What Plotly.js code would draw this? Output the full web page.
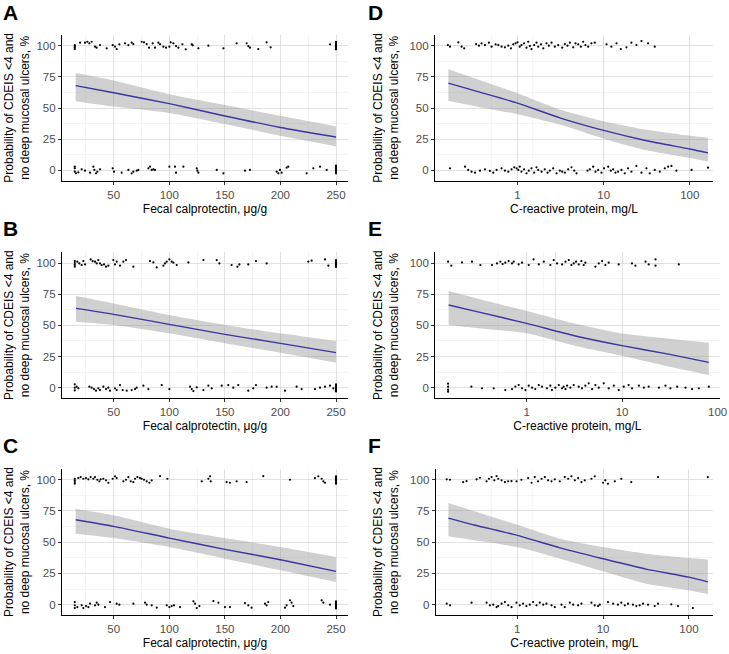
<!DOCTYPE html>
<html>
<head>
<meta charset="utf-8">
<script src="https://cdn.plot.ly/plotly-3.0.1.min.js"></script>
<style>
html,body{margin:0;padding:0;background:#fff;}
#chart{width:729px;height:654px;}
</style>
</head>
<body>
<div id="chart"></div>
<script>
// ---------- Labels ----------
var panelLetters = ["A", "B", "C", "D", "E", "F"];
var xTitleFC = "Fecal calprotectin, μg/g";
var xTitleCRP = "C-reactive protein, mg/L";
var yTitle = "Probability of CDEIS &lt;4 and<br>no deep mucosal ulcers, %";
var yTicks = [0, 25, 50, 75, 100];
var yMinor = [12.5, 37.5, 62.5, 87.5];
var fcTicks = [50, 100, 150, 200, 250];
var fcMinor = [25, 75, 125, 175, 225];
var crpTicks = [1, 10, 100];
var crpTickText = ["1", "10", "100"];
var crpMinor = [0.316, 3.16, 31.6];

// ---------- Panel A (fecal calprotectin) ----------
var aTopX = [15,15,15,15, 19.7,24.2,26.3,28.1,30.2, 33.2,34.7,37.7,43.7,49.1, 51.2,52.7,55.1,60.2,63.2,
  66.2,67.7,75.2,77.3,79.7, 81.8,85.1,87.2,90.2,91.7, 94.7,97.1,100.1,101.3,103.7, 106.1,108.2,111.8,114.8,120.2,
  121.1,126.2,135.2,148.7,160.6, 169.6,171.1,172.6,180.1,187.6, 191.2,244.6,
  250,250,250,250,250,250,250,250,250,250];
var aTopY = [97.3,98.4,99.5,100.4, 102.4,102.4,103.2,101.9,103.2, 99.2,98.4,100.5,97.9,100.5, 99.2,97.3,101.1,101.9,100.5,
  102.4,101.3,103.2,102.7,101.3, 98.4,101.9,98.4,102.4,101.1, 99.2,98.4,99.2,102.7,101.9, 99.7,98.4,101.1,97.1,101.1,
  100.3,97.9,100,97.9,101.9, 101.9,99.7,98.4,97.3,102.7, 98.7,101.1,
  97.1,97.8,98.5,99.2,99.9,100.6,101.3,102,102.7,103.2];
var aBotX = [15,15,15,16.1,18.2, 21.2,24.2,28.7,31.7,32.6, 34.1,35.3,37.7,49.1,50.3, 57.2,63.2,66.2,67.7,70.7,
  72.2,81.2,82.7,84.2,85.7, 87.2,100.1,105.2,106.1,112.7, 124.7,125.3,126.2,142.7,148.7, 168.1,172.6,196.6,198.1,199.6,
  201.1,205.6,207.1,223.6,229.6, 235.6,241.6,
  250,250,250,250,250,250,250,250,250];
var aBotY = [2.9,1.6,-1.1,-2.4,-1.6, 0.8,-0.3,-1.9,2.9,0.3, -2.4,-1.1,0.8,1.6,-1.1, -1.9,0.3,-2.4,-1.1,-0.3,
  0.3,1.6,2.9,0.3,0.8, 0.3,2.9,2.9,-1.9,2.9, 1.6,-0.3,-1.9,0.3,-2.4, -0.3,0.3,-1.1,-2.4,0.3,
  -1.9,2.1,2.9,-2.4,1.6, 2.9,0.3,
  -2.4,-1.5,-0.6,0.3,1.2,2.1,2.9,3.7,-2.0];
var aFitX = [15.8, 50, 100, 150, 200, 250];
var aFit = [68, 62.2, 53.5, 43.6, 34.4, 26.7];
var aLo = [55.5, 51.2, 46, 37.1, 27.7, 19.2];
var aHi = [78, 72, 61, 52.4, 43.7, 35.2];

// ---------- Panel B ----------
var bTopX = [15,15,15,15, 17.3,19.1,21.2,22.7,24.2, 29.3,31.1,33.2,34.7,36.2, 37.7,39.2,41.3,43.1,45.2,
  49.7,51.2,52.7,55.7,58.7, 61.1,67.7,82.7,85.7,88.7, 94.7,96.2,97.7,100.1,102.2, 103.7,106.7,117.2,130.7,142.7,
  145.1,156.1,161.3,163.1,171.1, 178,187.6,225.1,228.1,240.1, 243.1,
  250,250,250,250,250,250,250,250,250];
var bTopY = [97.1,98.5,100,101.6, 101.1,99.7,98.4,101.6,98.9, 102.9,101.6,101.1,99.7,102.4, 99.7,98.4,98.9,97.1,97.9,
  102.4,98.9,101.1,97.9,101.1, 102.4,97.1,101.6,100.5,96.5, 97.9,99.7,101.1,102.9,101.1, 100.3,98.4,100.5,102.4,102.4,
  99.7,98.4,97.1,98.9,98.9, 101.6,99.7,101.1,101.9,102.9, 97.9,
  96.8,97.5,98.2,98.9,99.6,100.3,101,101.7,102.4];
var bBotX = [15,15,15,16.7,18.2, 28.1,30.2,32.3,34.1,36.2, 37.7,40.7,43.1,45.2,46.7, 51.2,52.7,55.7,58.1,61.7,
  66.2,69.2,70.7,76.7,81.2, 93.2,100.1,118.7,120.2,121.7, 124.7,130.7,135.2,138.2,147.2, 153.1,157.6,162.1,171.1,175.6,
  178,187.6,192.1,196.6,204.1, 214.6,219.1,231.1,235.6,240.1, 244.6,247.6,
  250,250,250,250,250,250,250,250];
var bBotY = [2.7,0,-2.1,0.8,-0.5, 0.8,0,-1.1,-2.4,-0.5, -1.9,0.8,-1.1,0,-2.4, -0.5,-1.9,2.1,-1.9,-2.4,
  -1.9,-1.1,0,1.6,-1.1, 2.1,-1.1,0.8,-1.1,-2.7, 0.3,-1.9,1.6,-0.5,1.6, 2.1,0,2.1,-2.4,-0.5,
  2.1,0,0.8,0.8,-2.4, 0.8,-1.1,-1.1,0,0.8, 1.6,-0.5,
  -3,-2.2,-1.4,-0.6,0.2,1,1.8,2.6];
var bFitX = [16.1, 50, 100, 150, 200, 250];
var bFit = [63.6, 58.8, 50.8, 42.8, 35.6, 28.1];
var bLo = [52.9, 50.3, 43.6, 35.6, 28.1, 20.1];
var bHi = [73.5, 67.6, 58.3, 50.3, 43.6, 37.4];

// ---------- Panel C ----------
var cTopX = [15,15,15,15, 18.2,20.3,22.7,25.1,27.2, 29.3,31.7,33.2,35.3,37.1, 38.3,40.7,43.1,45.2,49.1,
  51.2,52.7,58.7,61.1,63.2, 65.3,67.7,69.2,71.3,73.7, 75.2,77.3,79.7,82.1,84.2, 91.7,98.3,129.2,135.2,136.7,
  137.3,151.6,154.6,160.6,169.6, 184.6,208.6,231.1,234.1,237.1, 238.6,240.1,
  250,250,250,250,250,250,250,250,250];
var cTopY = [96.8,98.1,99.5,100.8, 101.3,102.1,100.8,101.3,100.3, 102.1,100.8,102.1,100,98.7, 100.3,100.8,99.5,97.6,100.8,
  102.7,101.3,98.7,100,102.1, 98.7,98.1,100.8,102.1,101.3, 100.8,100,98.7,97.6,99.5, 102.9,100.8,98.7,100.8,102.7,
  98.7,98.1,97.6,98.7,98.1, 102.9,100,101.3,102.7,100.8, 98.7,97.6,
  96.8,97.5,98.2,98.9,99.6,100.3,101,101.7,102.7];
var cBotX = [15,15,15,17.3,21.2, 22.7,25.1,27.2,28.7,33.2, 34.7,36.2,42.2,46.7,52.7, 55.1,67.7,78.2,79.7,84.2,
  88.7,97.7,100.1,102.2,104.3, 109.7,121.7,123.2,124.7,127.1, 139.7,144.2,150.1,154.6,168.1, 171.1,174.1,186.1,187.6,189.1,
  204.1,205.6,208.6,210.1,211.6, 237.1,238.6,244.6,
  250,250,250,250,250,250,250,250];
var cBotY = [2.1,-0.5,-2.7,-1.9,-0.5, -2.7,-1.1,-1.9,0.8,-0.5, 1.6,0,-1.9,2.1,0.8, 0,0.8,1.6,0,-0.5,
  -2.4,-0.5,-1.9,-1.1,-0.5, -1.9,2.7,0.8,-2.7,-1.1, 2.9,1.6,-1.9,-1.9,1.3, -0.5,-2.4,0.8,-0.5,2.1,
  -2.4,-0.5,3.5,1.6,-1.1, 3.5,1.6,0,
  -3,-2.2,-1.4,-0.6,0.2,1,1.8,2.6];
var cFitX = [15.8, 50, 100, 150, 200, 250];
var cFit = [68, 62.7, 53.3, 44.3, 36, 26.7];
var cLo = [56.8, 53.3, 46.1, 36.8, 27.5, 18.1];
var cHi = [76.8, 71.5, 60.8, 53.3, 46.1, 38.1];

// ---------- Panel D (C-reactive protein) ----------
var dTopX = [0.155,0.164,0.205,0.224,0.24, 0.33,0.356,0.382,0.418,0.465, 0.499,0.556,0.597,0.652,0.713,
  0.78,0.837,0.891,0.948,1, 1.06,1.11,1.19,1.27,1.33, 1.39,1.45,1.56,1.66,1.74, 1.87,1.99,2.17,2.31,2.48,
  2.71,2.96,3.3,3.54,3.8, 4.05,4.43,4.71,5.06,5.43, 5.78,6.15,6.61,7.22,7.89, 10.8,12.3,14.1,15.8,18.4,
  21,24,27.5,32.8,39.2];
var dTopY = [100.5,99.2,102.7,99.2,97.9, 101.3,100,101.9,100.5,102.4, 99.2,101.1,100.5,99.2,98.7,
  100,97.9,101.1,101.9,102.7, 99.2,100.5,101.9,98.4,103.2, 99.7,97.3,100.5,102.4,99.2, 101.1,97.9,101.9,100,102.4,
  99.2,100.5,98.4,101.3,100, 102.4,98.7,101.9,101.1,99.2, 103.2,100.5,99.2,101.9,102.4, 101.1,99.2,101.9,97.3,98.7,
  102.4,100.5,103.7,101.9,99.2];
var dBotX = [0.164,0.245,0.267,0.292,0.32, 0.366,0.418,0.477,0.522,0.571, 0.652,0.713,0.78,0.852,0.915,
  0.974,1.02,1.06,1.11,1.19, 1.27,1.35,1.45,1.56,1.66, 1.74,1.9,2.07,2.23,2.37, 2.59,2.84,3.1,3.3,3.54,
  3.87,4.23,4.55,4.84,6.49, 6.91,7.55,8.04,8.63,9.44, 10.1,11.3,12.1,12.9,13.7, 14.7,16.1,17.6,19.2,21,
  24,27.5,31.4,34.3,39.2, 44.9,51.3,56.1,61.3,70, 105,163];
var dBotY = [1.6,2.9,0.3,-1.1,-1.9, -0.3,0.8,-0.5,-1.9,0.3, 1.6,-0.3,-1.1,0.8,2.4,
  1.6,0.3,2.9,-1.1,0.8, -2.4,-0.3,1.6,-1.9,2.4, 0.3,-1.1,0.8,-1.9,-0.3, 1.6,-2.4,-0.3,-1.1,-1.9,
  0.8,2.4,-0.3,-2.4,-0.3, 0.8,2.9,-1.1,0.3,-1.9, 1.6,2.9,-0.3,0.8,-1.9, -1.1,0.3,-2.4,1.6,-1.1,
  3.5,-1.9,1.6,-2.4,0.3, -1.1,1.6,2.9,3.5,-0.3, 0.3,2.1];
var dFitX = [0.157, 0.316, 1, 3.16, 10, 31.6, 100, 163];
var dFit = [70, 63.9, 53.9, 41.9, 32, 23.7, 17.1, 14];
var dLo = [55.8, 51.5, 45, 36.5, 25.4, 16, 9.8, 7];
var dHi = [81.2, 73.9, 61.9, 48.6, 39.4, 32.5, 27.7, 26.2];

// ---------- Panel E ----------
var eTopX = [0.15,0.162,0.21,0.267,0.327, 0.433,0.489,0.53,0.56,0.597, 0.647,0.702,0.731,0.824,0.893,
  1.05,1.18,1.34,1.51,1.77, 1.92,2.08,2.35,2.55,2.76, 2.94,3.11,3.29,3.51,3.74, 3.96,4.12,5.25,5.69,6.17,
  6.68,7.24,9.22,12.7,13.8, 17.6,19,22.4,22.4,39.3];
var eTopY = [101.1,97.9,100.5,101.1,98.4, 98.4,99.7,101.1,99.2,100.3, 101.6,99.7,101.1,98.9,100.3,
  98.4,102.9,98.9,101.1,98.4, 102.4,99.7,98.9,101.1,102.4, 98.4,99.7,101.1,98.9,101.6, 98.4,100.3,97.1,99.7,101.6,
  98.4,100.3,98.9,99.7,97.9, 101.1,98.9,102.9,97.9,98.9];
var eBotX = [0.15,0.15,0.15,0.15, 0.263,0.34,0.451,0.597,0.702, 0.76,0.824,0.893,0.97,1.05,
  1.14,1.23,1.34,1.45,1.63, 1.77,1.84,2.0,2.17,2.35, 2.44,2.55,2.65,2.87,3.11, 3.51,3.8,4.12,4.47,4.85,
  5.25,5.69,6.42,7.24,8.18, 9.22,10.4,11.7,12.7,15, 16.9,19,24.3,28.5,32.1, 37.8,46.2,54.2,63.7,81.1];
var eBotY = [-3.2,-1.6,0.8,3.2, 0.8,-0.5,-0.5,-1.9,-1.1, 0.8,2.1,-0.5,-1.9,1.6,
  0,-1.1,2.1,0.8,-0.5, 1.6,-1.9,0,2.1,-0.5, 0.8,-1.1,1.6,0,2.1, 0.8,-0.5,1.6,3.5,-1.1,
  2.1,0,3.5,-0.5,1.6, -1.9,0.8,2.1,-0.5,1.6, 0,0.8,0,1.6,-0.5, 0.8,0,-1.1,-0.5,0.8];
var eFitX = [0.152, 0.316, 1, 3.16, 10, 31.6, 81];
var eFit = [66.3, 60.6, 51.6, 41.7, 33.7, 26.7, 20.3];
var eLo = [50.3, 47.7, 43.6, 33.7, 25.7, 16.8, 10.2];
var eHi = [77.5, 71.1, 61.5, 51.5, 43.5, 39.3, 36.1];

// ---------- Panel F ----------
var fTopX = [0.151,0.165,0.235,0.257,0.337, 0.368,0.44,0.469,0.503,0.541, 0.575,0.601,0.658,0.719,0.786,
  0.859,0.982,1.12,1.34,1.47, 1.6,1.75,1.92,2.1,2.29, 2.51,2.74,3.13,3.58,3.92, 4.28,4.69,5.12,5.6,6.12,
  7.32,8,10,10.6,11.4, 13.7,16.3,21.3,43.6,166];
var fTopY = [100.3,100,98.1,98.9,100.3, 101.6,98.7,100.8,102.1,99.5, 102.9,100.8,99.5,98.1,98.7,
  98.9,98.7,100,101.3,97.6, 102.1,98.7,100.8,102.1,99.5, 98.7,100.3,98.7,102.1,100.8, 102.7,99.5,101.3,98.1,99.5,
  100.8,102.7,97.6,99.5,96.8, 98.7,100.8,98.1,102.1,102.1];
var fBotX = [0.151,0.165,0.294,0.44,0.481, 0.526,0.575,0.601,0.658,0.719, 0.786,0.859,0.982,1.07,1.17,
  1.28,1.4,1.53,1.68,1.83, 2.01,2.19,2.51,2.74,3.28, 3.58,4.1,4.48,5.12,5.6, 7.32,8,8.75,9.15,11.4,
  13.1,14.9,16.3,17.9,19.5, 22.3,24.4,26.7,29.2,33.4, 39.9,43.6,62.3,74.5,111];
var fBotY = [0.8,-0.5,1.6,1.6,-0.5, 0,-1.9,-1.1,0.8,2.1, -0.5,-1.9,1.6,-0.5,0.8,
  -1.1,0,2.1,-0.5,1.6, 0,0.8,-0.5,-1.9,0, -1.9,1.6,0,-0.5,0.8, 1.6,-0.5,-1.1,0,2.1,
  0.8,0,1.6,-0.5,0.8, 0,-1.1,-0.5,0.8,0, -1.1,0.8,0.3,-1.1,-2.7];
var fFitX = [0.158, 0.316, 1, 3.16, 10, 31.6, 100, 166];
var fFit = [69.3, 63.8, 55.5, 45.5, 36.8, 28.5, 22, 18.3];
var fLo = [54.7, 51.5, 46.1, 36.8, 26.7, 16.8, 11.5, 8.3];
var fHi = [81.3, 74.8, 64, 52.8, 46.1, 40.8, 37.3, 36];

// ---------- Build ----------
var panels = [
  {tx: aTopX, ty: aTopY, bx: aBotX, by: aBotY, fx: aFitX, fit: aFit, lo: aLo, hi: aHi},
  {tx: bTopX, ty: bTopY, bx: bBotX, by: bBotY, fx: bFitX, fit: bFit, lo: bLo, hi: bHi},
  {tx: cTopX, ty: cTopY, bx: cBotX, by: cBotY, fx: cFitX, fit: cFit, lo: cLo, hi: cHi},
  {tx: dTopX, ty: dTopY, bx: dBotX, by: dBotY, fx: dFitX, fit: dFit, lo: dLo, hi: dHi},
  {tx: eTopX, ty: eTopY, bx: eBotX, by: eBotY, fx: eFitX, fit: eFit, lo: eLo, hi: eHi},
  {tx: fTopX, ty: fTopY, bx: fBotX, by: fBotY, fx: fFitX, fit: fFit, lo: fLo, hi: fHi}
];

var W = 729, H = 654;
var FONT = "Liberation Sans, Arial, Helvetica, sans-serif";
var ribbonFill = "rgba(150,150,150,0.45)";
var lineColor = "#3a36a0";
var majorColor = "#d9d9d9";
var minorColor = "#ececec";
var tickFont = {family: FONT, size: 11.5, color: "#4d4d4d"};

var traces = [];
panels.forEach(function (p, i) {
  var n = i + 1;
  var xa = n === 1 ? "x" : "x" + n;
  var ya = n === 1 ? "y" : "y" + n;
  traces.push({x: p.fx, y: p.lo, xaxis: xa, yaxis: ya, type: "scatter", mode: "lines",
    line: {width: 0, shape: "spline", smoothing: 0.6}, hoverinfo: "skip", showlegend: false});
  traces.push({x: p.fx, y: p.hi, xaxis: xa, yaxis: ya, type: "scatter", mode: "lines",
    fill: "tonexty", fillcolor: ribbonFill,
    line: {width: 0, shape: "spline", smoothing: 0.6}, hoverinfo: "skip", showlegend: false});
  traces.push({x: p.fx, y: p.fit, xaxis: xa, yaxis: ya, type: "scatter", mode: "lines",
    line: {width: 1.4, color: lineColor, shape: "spline", smoothing: 0.6}, hoverinfo: "skip", showlegend: false});
  traces.push({x: p.tx.concat(p.bx), y: p.ty.concat(p.by), xaxis: xa, yaxis: ya, type: "scatter", mode: "markers",
    marker: {size: 2.2, color: "#000"}, hoverinfo: "skip", showlegend: false});
});

function dx(a, b) { return [a / W, b / W]; }
function dy(top, bot) { return [1 - bot / H, 1 - top / H]; }
var rows = [[34.5, 180.9], [251.8, 398.3], [468.5, 615.3]];
var xDom = [dx(62, 348), dx(62, 348), dx(62, 348), dx(435, 713), dx(435.3, 719.5), dx(435.7, 713)];
var xRanges = [[3.5, 260.8], [3.5, 260.8], [3.5, 260.8], [-0.959, 2.27], [-0.958, 2.021], [-0.949, 2.28]];

function baseAxis() {
  return {
    showline: true, linecolor: "#000", linewidth: 1.1,
    ticks: "outside", ticklen: 3, tickwidth: 1, tickcolor: "#333",
    tickfont: tickFont,
    ticklabeloverflow: "allow",
    showgrid: true, gridcolor: majorColor, gridwidth: 0.8,
    zeroline: false, fixedrange: true
  };
}

var layout = {
  width: W, height: H,
  margin: {l: 0, r: 0, t: 0, b: 0},
  paper_bgcolor: "#fff", plot_bgcolor: "#fff",
  showlegend: false,
  font: {family: FONT, color: "#000"},
  annotations: [],
  shapes: []
};

for (var i = 0; i < 6; i++) {
  var n = i + 1;
  var row = i % 3;
  var isLog = i >= 3;
  var xName = n === 1 ? "x" : "x" + n;
  var yName = n === 1 ? "y" : "y" + n;
  var xa = baseAxis();
  xa.domain = xDom[i];
  xa.anchor = yName;
  xa.range = xRanges[i];
  if (isLog) {
    xa.type = "log";
    crpMinor.forEach(function (v) {
      layout.shapes.push({type: "line", xref: xName, yref: yName + " domain",
        x0: Math.log10(v), x1: Math.log10(v), y0: 0, y1: 1, layer: "below",
        line: {color: minorColor, width: 0.6}});
    });
    if (n === 5) {
      // Panel E: the last break sits at the very edge of the panel; the axis draws
      // the first two breaks and the last one is drawn as a grid line + text label.
      xa.tickvals = crpTicks.slice(0, 2);
      xa.ticktext = crpTickText.slice(0, 2);
      var lastTick = crpTicks[crpTicks.length - 1];
      layout.shapes.push({type: "line", xref: xName, yref: yName + " domain",
        x0: Math.log10(lastTick), x1: Math.log10(lastTick), y0: 0, y1: 1, layer: "below",
        line: {color: majorColor, width: 0.8}});
      layout.annotations.push({text: crpTickText[crpTickText.length - 1], xref: xName, yref: yName + " domain",
        x: Math.log10(lastTick), y: -13.5 / (rows[row][1] - rows[row][0]),
        xanchor: "center", yanchor: "middle", showarrow: false, font: tickFont});
    } else {
      xa.tickvals = crpTicks;
      xa.ticktext = crpTickText;
    }
  } else {
    xa.tickvals = fcTicks;
    xa.minor = {showgrid: true, gridcolor: minorColor, gridwidth: 0.6, tickvals: fcMinor, ticks: ""};
  }
  xa.title = {text: isLog ? xTitleCRP : xTitleFC, font: {family: FONT, size: 12, color: "#000"}, standoff: 4};
  var ya = baseAxis();
  ya.domain = dy(rows[row][0], rows[row][1]);
  ya.anchor = xName;
  ya.range = [-8.5, 109];
  ya.tickvals = yTicks;
  ya.minor = {showgrid: true, gridcolor: minorColor, gridwidth: 0.6, tickvals: yMinor, ticks: ""};
  layout[n === 1 ? "xaxis" : "xaxis" + n] = xa;
  layout[n === 1 ? "yaxis" : "yaxis" + n] = ya;

  var cy = (rows[row][0] + rows[row][1]) / 2;
  layout.annotations.push({
    text: yTitle, textangle: -90, xref: "paper", yref: "paper",
    x: (isLog ? 386 : 17) / W, y: 1 - cy / H, xanchor: "center", yanchor: "middle",
    showarrow: false, font: {family: FONT, size: 12, color: "#000"}
  });
  var letterY = [13, 229, 446][row];
  layout.annotations.push({
    text: "<b>" + panelLetters[i] + "</b>", xref: "paper", yref: "paper",
    x: (isLog ? 366 : 1) / W, y: 1 - letterY / H, xanchor: "left", yanchor: "middle",
    showarrow: false, font: {family: FONT, size: 21, color: "#000"}
  });
}

Plotly.newPlot("chart", traces, layout, {staticPlot: true, displayModeBar: false});
</script>
</body>
</html>
